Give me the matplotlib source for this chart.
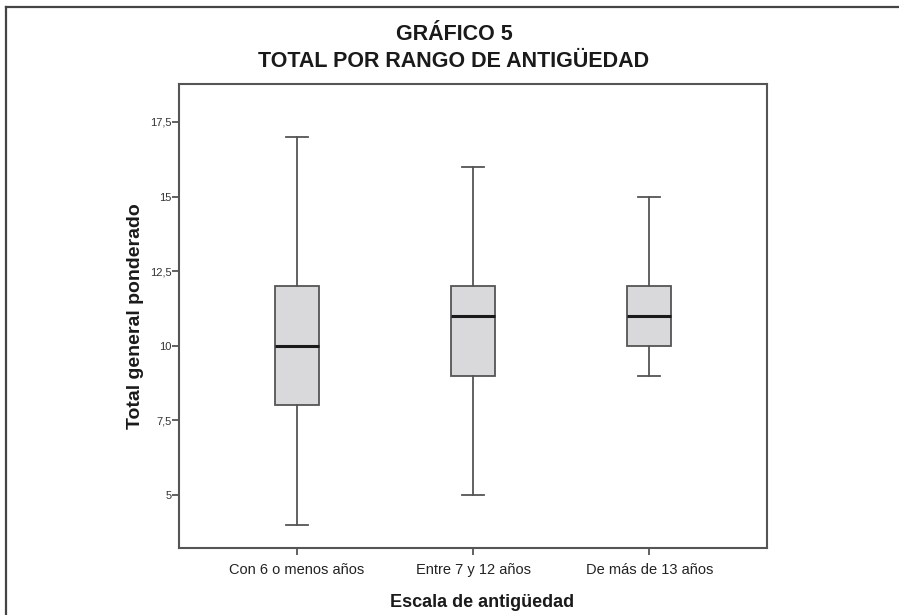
import matplotlib
matplotlib.use("Agg")
import matplotlib.pyplot as plt
from matplotlib.lines import Line2D

plt.rcParams['font.family'] = ['Liberation Sans', 'DejaVu Sans']

categories = ["Con 6 o menos años", "Entre 7 y 12 años", "De más de 13 años"]
whislo = [4, 5, 9]
q1 = [8, 9, 10]
med = [10, 11, 11]
q3 = [12, 12, 12]
whishi = [17, 16, 15]
yticks = [5, 7.5, 10, 12.5, 15, 17.5]
ytick_labels = ["5", "7,5", "10", "12,5", "15", "17,5"]

W, H = 899, 615
fig = plt.figure(figsize=(W / 100, H / 100), dpi=100)
ax = fig.add_axes([179 / W, 1 - 547.7 / H, (767 - 179) / W, (547.7 - 84) / H])

stats = []
for i, c in enumerate(categories):
    stats.append(dict(label=c, whislo=whislo[i], q1=q1[i], med=med[i],
                      q3=q3[i], whishi=whishi[i], fliers=[]))

edge = '#555555'
ax.bxp(stats, positions=range(len(categories)), widths=0.25,
       patch_artist=True, showfliers=False,
       boxprops=dict(facecolor='#d9d9db', edgecolor=edge, linewidth=1.3),
       medianprops=dict(color='#1a1a1a', linewidth=2.2),
       whiskerprops=dict(color=edge, linewidth=1.3),
       capprops=dict(color=edge, linewidth=1.3),
       capwidths=0.125)

ax.set_xlim(-0.667, 2.667)
ax.set_ylim(3.234, 18.77)
ax.set_yticks(yticks)
ax.set_yticklabels(ytick_labels, fontsize=8, color='#333333')
ax.set_xticks(range(len(categories)))
ax.set_xticklabels(categories, fontsize=10.5, color='#222222')
ax.tick_params(axis='y', length=5, width=1.3, color=edge, pad=0.5)
ax.tick_params(axis='x', length=5, width=1.3, color=edge, pad=6)
for s in ax.spines.values():
    s.set_color(edge)
    s.set_linewidth(1.5)

# titles and axis labels
fig.text(454 / W, 1 - 40 / H, "GRÁFICO 5", ha='center', va='baseline',
         fontsize=15.5, fontweight='bold', color='#1a1a1a')
fig.text(454 / W, 1 - 66.7 / H, "TOTAL POR RANGO DE ANTIGÜEDAD", ha='center',
         va='baseline', fontsize=15.5, fontweight='bold', color='#1a1a1a')
fig.text(482 / W, 1 - 607 / H, "Escala de antigüedad", ha='center', va='baseline',
         fontsize=13, fontweight='bold', color='#1a1a1a')
fig.text(136 / W, 1 - 316 / H, "Total general ponderado", ha='center', va='center',
         rotation=90, fontsize=14, fontweight='bold', color='#1a1a1a')

# outer frame (top and left edges)
fig.add_artist(Line2D([5.5 / W, 5.5 / W], [0, 1 - 6.5 / H], transform=fig.transFigure,
                      color='#444444', linewidth=1.6))
fig.add_artist(Line2D([5.5 / W, 1], [1 - 6.5 / H, 1 - 6.5 / H], transform=fig.transFigure,
                      color='#444444', linewidth=1.6))

fig.savefig("out.png", dpi=100)
